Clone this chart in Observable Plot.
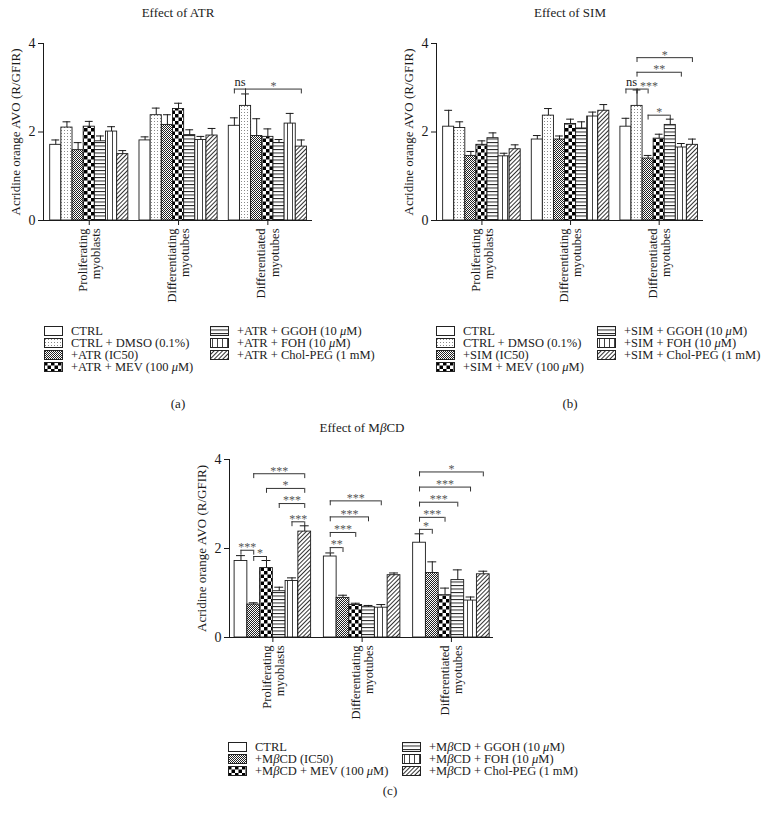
<!DOCTYPE html>
<html>
<head>
<meta charset="utf-8">
<script src="https://cdn.jsdelivr.net/npm/d3@7"></script>
<script src="https://cdn.jsdelivr.net/npm/@observablehq/plot@0.6"></script>
<style>
  body { margin: 0; background: #fff; font-family: "Liberation Serif", "DejaVu Serif", serif; color: #222; }
  #page { position: relative; width: 780px; height: 832px; overflow: hidden; background: #fff; }
  .abs { position: absolute; }
  .title { position: absolute; transform: translateX(-50%); font-size: 13px; line-height: 16px; white-space: nowrap; }
  .legcol { position: absolute; font-size: 12.5px; }
  .legrow { display: flex; align-items: center; height: 12px; line-height: 12px; white-space: nowrap; }
  .legrow svg { margin-right: 8px; flex: none; }
  g[aria-label="stars"] text { letter-spacing: 1px; }
</style>
</head>
<body>
<svg width="0" height="0" style="position:absolute">
  <defs>
    <pattern id="p-ctrl" patternUnits="userSpaceOnUse" width="4" height="4"><rect width="4" height="4" fill="#fff"/></pattern>
    <pattern id="p-dot" patternUnits="userSpaceOnUse" width="3" height="3"><rect width="3" height="3" fill="#fff"/><rect x="1" y="1" width="1" height="1" fill="#8a8a8a"/></pattern>
    <pattern id="p-fine" patternUnits="userSpaceOnUse" width="2" height="2"><rect width="2" height="2" fill="#fff"/><rect width="1" height="1" fill="#222"/><rect x="1" y="1" width="1" height="1" fill="#222"/></pattern>
    <pattern id="p-check" patternUnits="userSpaceOnUse" width="7" height="7"><rect width="7" height="7" fill="#fff"/><rect width="3.5" height="3.5" fill="#000"/><rect x="3.5" y="3.5" width="3.5" height="3.5" fill="#000"/></pattern>
    <pattern id="p-hline" patternUnits="userSpaceOnUse" width="4" height="3.5"><rect width="4" height="3.5" fill="#fff"/><rect width="4" height="1" fill="#222"/></pattern>
    <pattern id="p-vline" patternUnits="userSpaceOnUse" width="5" height="4"><rect width="5" height="4" fill="#fff"/><rect x="2" width="1" height="4" fill="#444"/></pattern>
    <pattern id="p-diag" patternUnits="userSpaceOnUse" width="3" height="3" patternTransform="rotate(45)"><rect width="3" height="3" fill="#fff"/><rect width="1" height="3" fill="#333"/></pattern>
  </defs>
</svg>

<div id="page">
  <div class="title" style="left:178px;top:5px">Effect of ATR</div>
  <div class="title" style="left:570px;top:5px">Effect of SIM</div>
  <div class="title" style="left:362px;top:420px">Effect of M<i>β</i>CD</div>
  <div id="pa" class="abs" style="left:0;top:30px"></div>
  <div id="pb" class="abs" style="left:390px;top:30px"></div>
  <div id="pc" class="abs" style="left:180px;top:445px"></div>
  <div class="title" style="left:178px;top:396px">(a)</div>
  <div class="title" style="left:570px;top:396px">(b)</div>
  <div class="title" style="left:390px;top:783px">(c)</div>
</div>

<script>
// ---------- data ----------
const groups = ["Proliferating\nmyoblasts", "Differentiating\nmyotubes", "Differentiated\nmyotubes"];
const yTicks = [0, 2, 4];
const yLabel = "Acridine orange AVO (R/GFIR)";

const seriesATR = ["CTRL", "CTRL + DMSO (0.1%)", "+ATR (IC50)", "+ATR + MEV (100 μM)", "+ATR + GGOH (10 μM)", "+ATR + FOH (10 μM)", "+ATR + Chol-PEG (1 mM)"];
const seriesSIM = ["CTRL", "CTRL + DMSO (0.1%)", "+SIM (IC50)", "+SIM + MEV (100 μM)", "+SIM + GGOH (10 μM)", "+SIM + FOH (10 μM)", "+SIM + Chol-PEG (1 mM)"];
const seriesMBCD = ["CTRL", "+MβCD (IC50)", "+MβCD + MEV (100 μM)", "+MβCD + GGOH (10 μM)", "+MβCD + FOH (10 μM)", "+MβCD + Chol-PEG (1 mM)"];

// ATR: means and SEM per stage
const atrProlif = [1.71, 2.10, 1.59, 2.12, 1.79, 2.01, 1.50];
const atrProlifSem = [0.11, 0.13, 0.17, 0.12, 0.12, 0.11, 0.08];
const atrDiffing = [1.81, 2.38, 2.16, 2.52, 1.93, 1.82, 1.92];
const atrDiffingSem = [0.08, 0.16, 0.23, 0.13, 0.12, 0.08, 0.16];
const atrDiffed = [2.14, 2.59, 1.91, 1.89, 1.75, 2.19, 1.67];
const atrDiffedSem = [0.18, 0.27, 0.39, 0.18, 0.08, 0.23, 0.15];

// SIM
const simProlif = [2.12, 2.09, 1.46, 1.71, 1.86, 1.45, 1.61];
const simProlifSem = [0.37, 0.14, 0.10, 0.09, 0.12, 0.07, 0.10];
const simDiffing = [1.83, 2.37, 1.83, 2.18, 2.08, 2.35, 2.48];
const simDiffingSem = [0.09, 0.16, 0.08, 0.11, 0.15, 0.10, 0.14];
const simDiffed = [2.12, 2.59, 1.40, 1.85, 2.16, 1.65, 1.71];
const simDiffedSem = [0.19, 0.36, 0.07, 0.10, 0.13, 0.09, 0.13];

// MβCD
const mbcdProlif = [1.72, 0.74, 1.56, 1.04, 1.27, 2.38];
const mbcdProlifSem = [0.12, 0.04, 0.17, 0.09, 0.07, 0.13];
const mbcdDiffing = [1.82, 0.89, 0.73, 0.68, 0.67, 1.40];
const mbcdDiffingSem = [0.08, 0.06, 0.04, 0.04, 0.07, 0.05];
const mbcdDiffed = [2.13, 1.45, 0.95, 1.29, 0.83, 1.42];
const mbcdDiffedSem = [0.20, 0.25, 0.16, 0.23, 0.08, 0.07];

// significance brackets: stage index, series indexes, level, label
const atrSig = [
  {stage: 2, from: 0, to: 1, level: 2.97, label: "ns"},
  {stage: 2, from: 1, to: 6, level: 2.97, label: "*"}
];
const simSig = [
  {stage: 2, from: 0, to: 1, level: 2.97, label: "ns"},
  {stage: 2, from: 1, to: 2, level: 2.97, label: "***"},
  {stage: 2, from: 2, to: 4, level: 2.38, label: "*"},
  {stage: 2, from: 1, to: 5, level: 3.35, label: "**"},
  {stage: 2, from: 1, to: 6, level: 3.68, label: "*"}
];
const mbcdSig = [
  {stage: 0, from: 0, to: 1, level: 1.96, label: "***"},
  {stage: 0, from: 1, to: 2, level: 1.82, label: "*"},
  {stage: 0, from: 1, to: 5, level: 3.68, label: "***"},
  {stage: 0, from: 2, to: 5, level: 3.35, label: "*"},
  {stage: 0, from: 3, to: 5, level: 3.01, label: "***"},
  {stage: 0, from: 4, to: 5, level: 2.60, label: "***"},
  {stage: 1, from: 0, to: 1, level: 2.02, label: "**"},
  {stage: 1, from: 0, to: 2, level: 2.36, label: "***"},
  {stage: 1, from: 0, to: 3, level: 2.71, label: "***"},
  {stage: 1, from: 0, to: 4, level: 3.07, label: "***"},
  {stage: 2, from: 0, to: 1, level: 2.43, label: "*"},
  {stage: 2, from: 0, to: 2, level: 2.70, label: "***"},
  {stage: 2, from: 0, to: 3, level: 3.04, label: "***"},
  {stage: 2, from: 0, to: 4, level: 3.38, label: "***"},
  {stage: 2, from: 0, to: 5, level: 3.72, label: "*"}
];

// fill styles (patterns) per series
const patsAB = ["ctrl", "dot", "fine", "check", "hline", "vline", "diag"];
const patsC = ["ctrl", "fine", "check", "hline", "vline", "diag"];

// ---------- drawing ----------
function panel({series, means, sems, sig, pats, width, height, margins, xpad}) {
  const n = series.length;
  const stride = n + 1;
  const rows = [];
  means.forEach((arr, gi) => arr.forEach((m, si) => {
    const x1 = gi * stride + si;
    rows.push({gi, si, m, top: m + sems[gi][si], x1, x2: x1 + 1, cx: x1 + 0.5, pat: `url(#p-${pats[si]})`});
  }));
  const center = (gi, si) => gi * stride + si + 0.5;
  const groupData = groups.map((g, gi) => ({label: g, c: gi * stride + n / 2}));
  const br = sig.map(d => ({...d, xa: center(d.stage, d.from), xb: center(d.stage, d.to), mid: (center(d.stage, d.from) + center(d.stage, d.to)) / 2}));
  // a star label that sits right after an "ns" bracket at the same height starts at its left end
  br.forEach(d => {
    d.crowded = d.label !== "ns" && br.some(o => o.label === "ns" && o.stage === d.stage && o.level === d.level && o.to === d.from && d.to - d.from === 1);
  });
  const tickLen = 0.11;
  const xmax = (groups.length - 1) * stride + n;
  const stars = br.filter(d => d.label !== "ns");
  return Plot.plot({
    width, height,
    marginLeft: margins[0], marginRight: margins[1], marginTop: margins[2], marginBottom: margins[3],
    style: {fontFamily: "'Liberation Serif', 'DejaVu Serif', serif", fontSize: "13px", color: "#1a1a1a", background: "transparent", overflow: "visible"},
    x: {domain: [-xpad[0], xmax + xpad[1]]},
    y: {domain: [0, 4]},
    color: {type: "identity"},
    marks: [
      Plot.rect(rows, {x1: "x1", x2: "x2", y1: 0, y2: "m", fill: "pat", stroke: "#1a1a1a", strokeWidth: 0.9}),
      Plot.ruleX(rows, {x: "cx", y1: "m", y2: "top", stroke: "#1a1a1a", strokeWidth: 1}),
      Plot.ruleY(rows, {y: "top", x1: d => d.cx - 0.35, x2: d => d.cx + 0.35, stroke: "#1a1a1a", strokeWidth: 1}),
      Plot.ruleY(br, {y: "level", x1: "xa", x2: "xb", stroke: "#333", strokeWidth: 1}),
      Plot.ruleX(br, {x: "xa", y1: "level", y2: d => d.level - tickLen, stroke: "#333", strokeWidth: 1}),
      Plot.ruleX(br, {x: "xb", y1: "level", y2: d => d.level - tickLen, stroke: "#333", strokeWidth: 1}),
      Plot.text(br.filter(d => d.label === "ns"), {x: "mid", y: "level", text: "label", dy: -7, fontSize: 12.5, fill: "#1a1a1a"}),
      Plot.text(stars.filter(d => !d.crowded), {x: "mid", y: "level", text: "label", dy: -3, fontSize: 12, fill: "#555", ariaLabel: "stars"}),
      Plot.text(stars.filter(d => d.crowded), {x: "xa", y: "level", text: "label", dy: -3, dx: 3, textAnchor: "start", fontSize: 12, fill: "#555", ariaLabel: "stars"}),
      Plot.ruleY([0], {stroke: "#1a1a1a", strokeWidth: 1}),
      Plot.ruleX([-xpad[0]], {stroke: "#1a1a1a", strokeWidth: 1}),
      Plot.axisY({ticks: yTicks, tickSize: 5, tickPadding: 3, fontSize: 14, tickFormat: d3.format("d"), label: null}),
      Plot.axisX({ticks: groupData.map(d => d.c), tickSize: 5, tickFormat: () => "", label: null}),
      Plot.text(groupData, {x: "c", frameAnchor: "bottom", text: "label", rotate: -90, textAnchor: "end", lineAnchor: "middle", dy: 8, fontSize: 12.5, lineHeight: 1.05}),
      Plot.text([yLabel], {frameAnchor: "left", text: d => d, rotate: -90, textAnchor: "middle", lineAnchor: "middle", dx: -28, fontSize: 13})
    ]
  });
}

document.getElementById("pa").append(panel({
  series: seriesATR,
  means: [atrProlif, atrDiffing, atrDiffed],
  sems: [atrProlifSem, atrDiffingSem, atrDiffedSem],
  sig: atrSig, pats: patsAB,
  width: 390, height: 270, margins: [43, 78, 13, 80], xpad: [0.6, 0.5]
}));
document.getElementById("pb").append(panel({
  series: seriesSIM,
  means: [simProlif, simDiffing, simDiffed],
  sems: [simProlifSem, simDiffingSem, simDiffedSem],
  sig: simSig, pats: patsAB,
  width: 390, height: 270, margins: [46, 77, 13, 80], xpad: [0.6, 0.5]
}));
document.getElementById("pc").append(panel({
  series: seriesMBCD,
  means: [mbcdProlif, mbcdDiffing, mbcdDiffed],
  sems: [mbcdProlifSem, mbcdDiffingSem, mbcdDiffedSem],
  sig: mbcdSig, pats: patsC,
  width: 400, height: 282, margins: [49, 87, 14, 90], xpad: [0.4, 0.3]
}));

// ---------- legends ----------
function fmt(s) {
  return s.replace(/μ/g, "<i>μ</i>").replace(/β/g, "<i>β</i>");
}
function legend(series, pats, split, cols, top) {
  [series.slice(0, split), series.slice(split)].forEach((items, ci) => {
    const col = document.createElement("div");
    col.className = "legcol";
    col.style.left = cols[ci] + "px";
    col.style.top = top + "px";
    items.forEach((label, k) => {
      const si = ci === 0 ? k : split + k;
      const row = document.createElement("div");
      row.className = "legrow";
      row.innerHTML = `<svg width="19" height="10"><rect x="0.5" y="0.5" width="18" height="9" fill="url(#p-${pats[si]})" stroke="#222" stroke-width="1"/></svg><span>${fmt(label)}</span>`;
      col.append(row);
    });
    document.getElementById("page").append(col);
  });
}
legend(seriesATR, patsAB, 4, [44, 210], 325);
legend(seriesSIM, patsAB, 4, [436, 597], 325);
legend(seriesMBCD, patsC, 3, [228, 402], 741);
</script>
</body>
</html>
